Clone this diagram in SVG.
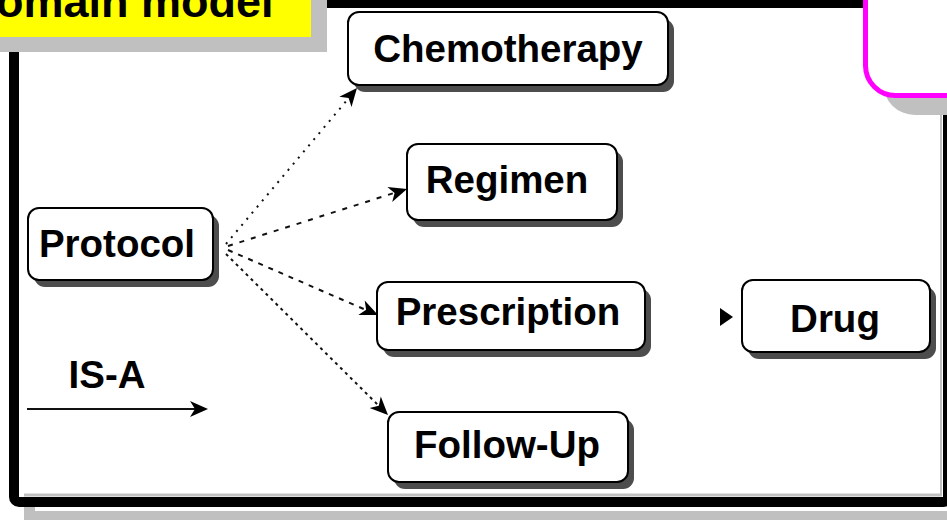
<svg xmlns="http://www.w3.org/2000/svg" width="947" height="520" viewBox="0 0 947 520">
  <defs>
    <style>
      .lbl { font-family: "Liberation Sans", Arial, sans-serif; font-weight: bold; font-size: 38.5px; fill: #000; text-anchor: middle; }
      .title { font-family: "Liberation Sans", Arial, sans-serif; font-weight: bold; font-size: 45px; fill: #000; }
      .shadow { fill: #4d4d4d; }
      .box { fill: #fff; stroke: #000; stroke-width: 2; }
      .link { fill: none; stroke: #111; stroke-width: 2; }
      .head { fill: #000; }
      .gray { fill: #c0c0c0; }
    </style>
  </defs>

  <rect width="947" height="520" fill="#fff"/>

  <!-- outer frame with offset grey shadow -->
  <g id="frame">
    <rect class="gray" x="24" y="511" width="923" height="9"/>
    <rect class="gray" x="24" y="506" width="11" height="6"/>
    <rect x="14" y="3" width="934" height="499" rx="5" fill="#fff" stroke="#000" stroke-width="10"/>
    <line x1="24" y1="495" x2="942" y2="495" stroke="#c0c0c0" stroke-width="3"/>
    <line x1="941" y1="100" x2="941" y2="496" stroke="#c0c0c0" stroke-width="2"/>
  </g>

  <!-- title tab -->
  <g id="title">
    <rect class="gray" x="-20" y="-20" width="347" height="72"/>
    <rect x="-20" y="-20" width="331" height="57" fill="#ffff00"/>
    <text class="title" x="-4" y="17">omain model</text>
  </g>

  <!-- rounded magenta panel, top right -->
  <g id="panel">
    <rect class="gray" x="883" y="-60" width="120" height="175" rx="32"/>
    <rect x="865.5" y="-60" width="120" height="155.5" rx="30" fill="#fff" stroke="#ff00ff" stroke-width="5"/>
  </g>

  <!-- connectors: dashed lines with filled arrowheads -->
  <g id="connectors">
    <path class="link" d="M226,244 L348,99" stroke-dasharray="2 6"/>
    <path class="head" d="M357,88 L351.5,107 L348.6,98 L339.3,96.7 z"/>

    <path class="link" d="M228,246 L394,193" stroke-dasharray="5 7"/>
    <path class="head" d="M407,189 L392.2,202.1 L394.6,192.9 L387.4,186.9 z"/>

    <path class="link" d="M228,250 L366,310" stroke-dasharray="5 6"/>
    <path class="head" d="M378,315 L358.3,315.1 L366.1,309.8 L364.7,300.5 z"/>

    <path class="link" d="M226,254 L378,405" stroke-dasharray="3 4"/>
    <path class="head" d="M388,415 L369.6,408 L378.8,405.8 L380.8,396.6 z"/>

    <path class="head" d="M720,308 L733,317 L720,326 z"/>
  </g>

  <!-- nodes -->
  <g id="chemotherapy">
    <rect class="shadow" x="354" y="19" width="320" height="73" rx="11"/>
    <rect class="box" x="348" y="12" width="320" height="73" rx="11"/>
    <text class="lbl" x="508" y="62">Chemotherapy</text>
  </g>
  <g id="regimen">
    <rect class="shadow" x="413" y="151" width="210" height="76" rx="11"/>
    <rect class="box" x="407" y="144" width="210" height="76" rx="11"/>
    <text class="lbl" x="507" y="193">Regimen</text>
  </g>
  <g id="protocol">
    <rect class="shadow" x="34" y="215" width="185" height="72" rx="11"/>
    <rect class="box" x="28" y="208" width="185" height="72" rx="11"/>
    <text class="lbl" x="117" y="257">Protocol</text>
  </g>
  <g id="prescription">
    <rect class="shadow" x="383" y="289" width="268" height="68" rx="11"/>
    <rect class="box" x="377" y="282" width="268" height="68" rx="11"/>
    <text class="lbl" x="508" y="325">Prescription</text>
  </g>
  <g id="drug">
    <rect class="shadow" x="748" y="287" width="188" height="72" rx="11"/>
    <rect class="box" x="742" y="280" width="188" height="72" rx="11"/>
    <text class="lbl" x="835" y="332">Drug</text>
  </g>
  <g id="follow-up">
    <rect class="shadow" x="394" y="419" width="240" height="70" rx="11"/>
    <rect class="box" x="388" y="412" width="240" height="70" rx="11"/>
    <text class="lbl" x="507" y="458">Follow-Up</text>
  </g>

  <!-- legend -->
  <g id="legend">
    <text class="lbl" x="107" y="388">IS-A</text>
    <path class="link" d="M27,409 L196,409"/>
    <path class="head" d="M208,409 L190,417 L195,409 L190,401 z"/>
  </g>
</svg>
